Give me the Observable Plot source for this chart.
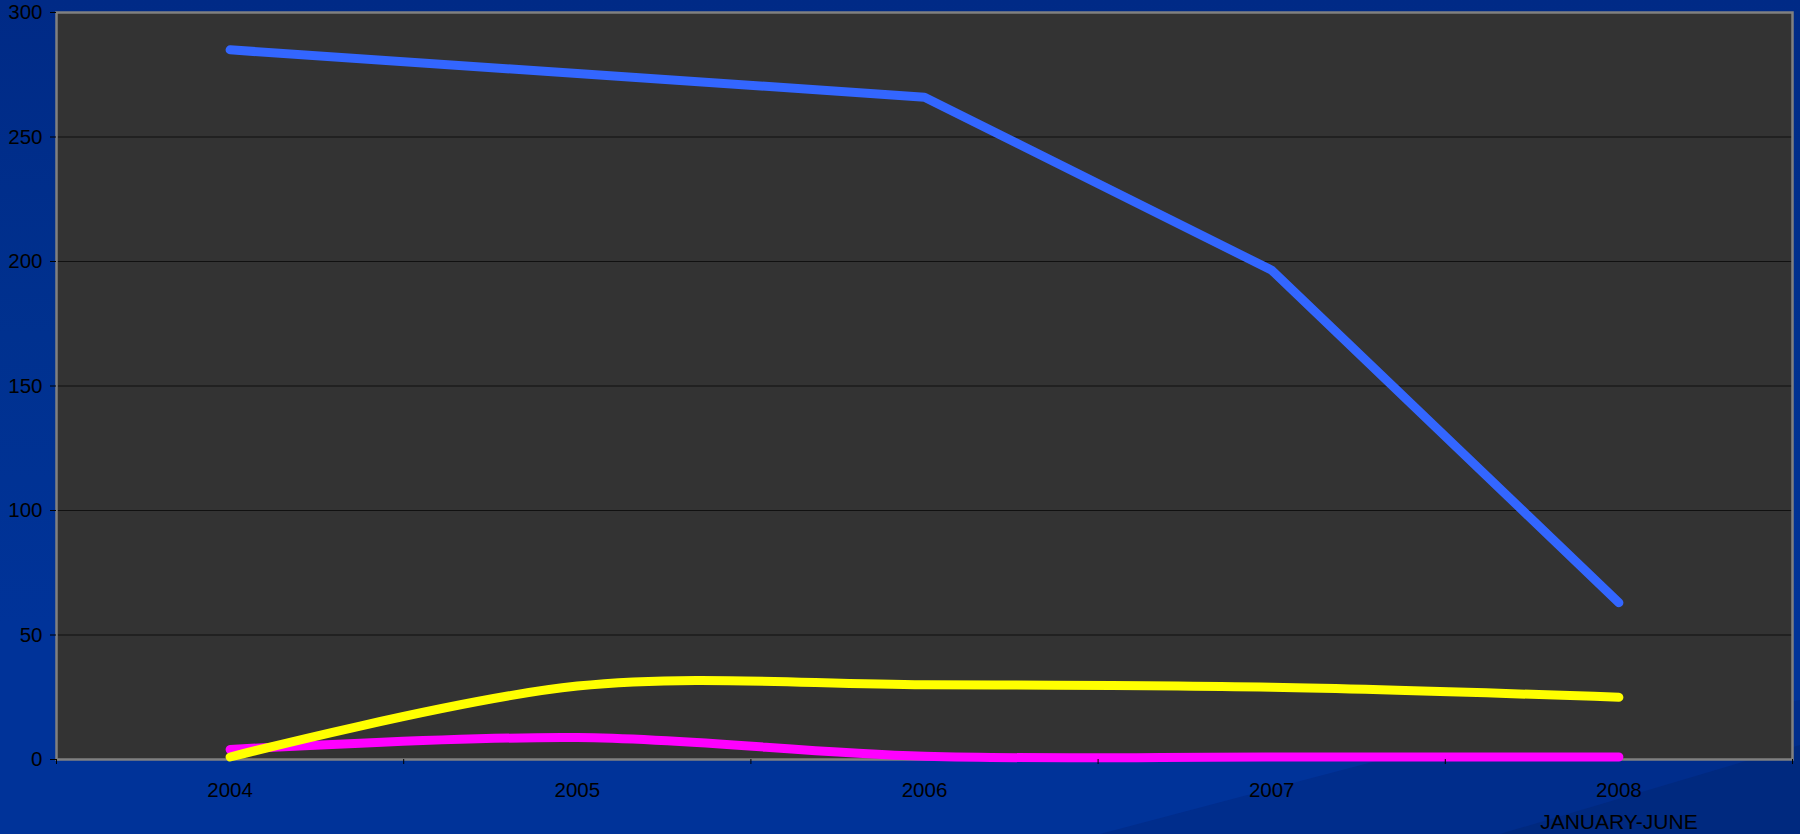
<!DOCTYPE html>
<html>
<head>
<meta charset="utf-8">
<script src="https://cdn.jsdelivr.net/npm/d3@7"></script>
<script src="https://cdn.jsdelivr.net/npm/@observablehq/plot@0.6"></script>
<style>
  html, body { margin: 0; padding: 0; }
  body {
    width: 1800px; height: 834px; overflow: hidden; position: relative;
    background: linear-gradient(180deg, #002a86 0%, #00318f 40%, #003399 75%);
    font-family: "Liberation Sans", Arial, sans-serif;
  }
  .swoosh1 {
    position: absolute; left: 0; top: 0; width: 1800px; height: 834px;
    background: #002d8c;
    clip-path: polygon(1100px 834px, 1380px 760px, 1800px 700px, 1800px 834px);
  }
  .swoosh2 {
    position: absolute; left: 0; top: 0; width: 1800px; height: 834px;
    background: #00297f;
    clip-path: polygon(1500px 834px, 1800px 745px, 1800px 834px);
  }
  #chart { position: absolute; left: 0; top: 0; }
</style>
</head>
<body>
<div class="swoosh1"></div>
<div class="swoosh2"></div>
<div id="chart"></div>
<script>
// ---- data ----
const years = [2004, 2005, 2006, 2007, 2008];
const yearLabels = ["2004", "2005", "2006", "2007", "2008"];
const periodNote = "JANUARY-JUNE";
const seriesNames = ["Series 1", "Series 2", "Series 3"];
const series1Values = [285, 275.5, 266, 196.5, 63];
const series2Values = [1, 29.5, 30, 29, 25];
const series3Values = [4, 8.8, 1.3, 1, 1];
const seriesColors = ["#3366ff", "#ffff00", "#ff00ff"];
const yTicks = [0, 50, 100, 150, 200, 250, 300];

// ---- build table ----
const valueSets = [series1Values, series2Values, series3Values];
const rows = [];
seriesNames.forEach((name, si) => {
  years.forEach((yr, i) => rows.push({series: name, year: yr, value: valueSets[si][i]}));
});
const boundaries = years.map(y => y - 0.5).concat([years[years.length - 1] + 0.5]);
const labelOf = new Map(years.map((y, i) => [y, yearLabels[i]]));

const font = "'Liberation Sans', Arial, sans-serif";
const lineOpts = {x: "year", y: "value", stroke: "series", strokeWidth: 9,
  strokeLinecap: "round", strokeLinejoin: "round"};

const chart = Plot.plot({
  width: 1800,
  height: 834,
  marginLeft: 56,
  marginRight: 8,
  marginTop: 12,
  marginBottom: 75,
  style: {background: "transparent", fontFamily: font, color: "#000"},
  x: {type: "linear", domain: [boundaries[0], boundaries[boundaries.length - 1]], label: null},
  y: {domain: [0, 300], label: null},
  color: {type: "ordinal", domain: seriesNames, range: seriesColors},
  marks: [
    Plot.frame({fill: "#333333", stroke: null}),
    Plot.ruleY(yTicks.filter(t => t > 0 && t < 300), {stroke: "#111111", strokeWidth: 1.2}),
    Plot.frame({stroke: "#808080", strokeWidth: 2.5}),
    Plot.lineY(rows.filter(d => d.series === "Series 3"), {...lineOpts, curve: "catmull-rom"}),
    Plot.lineY(rows.filter(d => d.series === "Series 2"), {...lineOpts, curve: "catmull-rom"}),
    Plot.lineY(rows.filter(d => d.series === "Series 1"), {...lineOpts, curve: "linear"}),
    Plot.axisY({ticks: yTicks, tickSize: 6, tickPadding: 8, fontSize: 20.5, stroke: "#000", fill: "#000", label: null, tickFormat: d => String(d)}),
    Plot.axisX({ticks: boundaries, tickSize: 5, tickFormat: () => "", stroke: "#000", label: null}),
    Plot.axisX({ticks: years, tickSize: 0, tickPadding: 23, fontSize: 20.5, fill: "#000", label: null, tickFormat: d => labelOf.get(d)}),
    Plot.text([years[years.length - 1]], {
      x: d => d, y: 0, text: () => periodNote, dy: 63, fontSize: 21, fill: "#000", lineAnchor: "middle"
    })
  ]
});
document.getElementById("chart").appendChild(chart);
</script>
</body>
</html>
